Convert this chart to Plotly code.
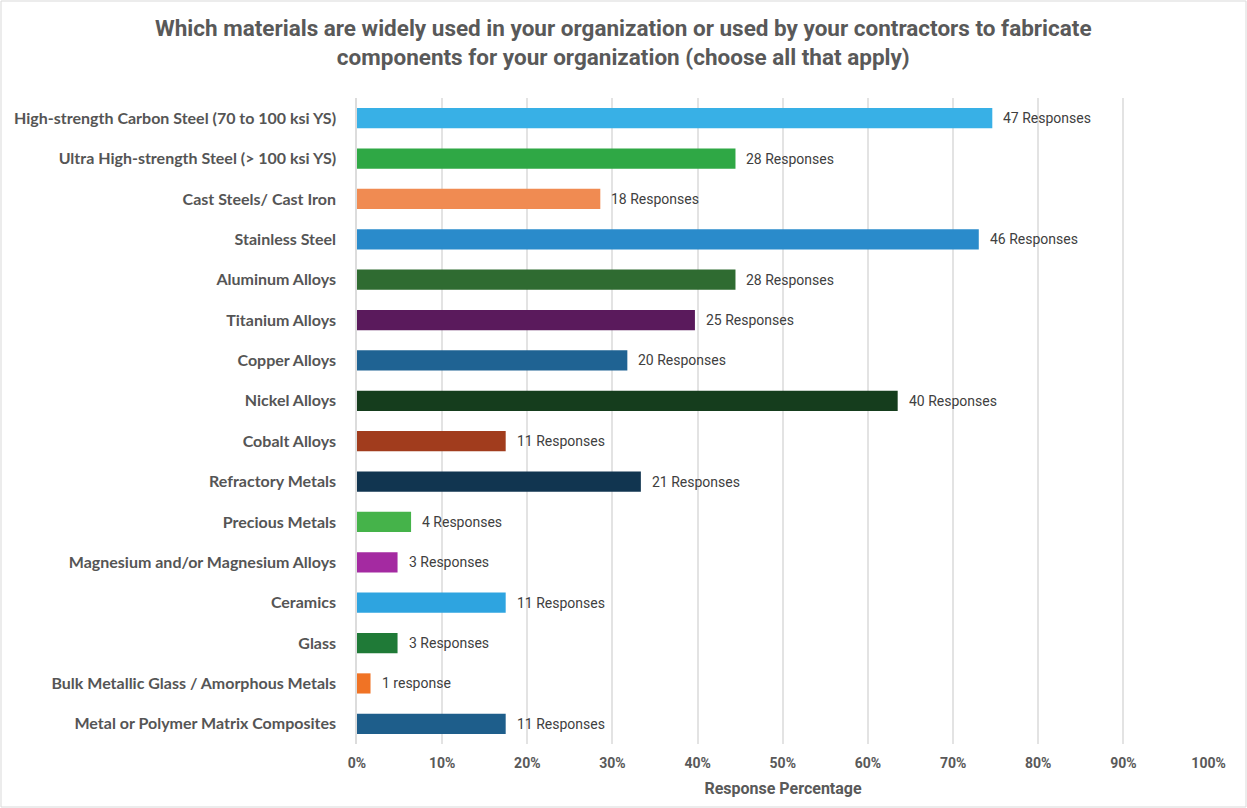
import plotly.graph_objects as go

# Survey results: materials used in-house or by contractors
materials = [
    "High-strength Carbon Steel (70 to 100 ksi YS)",
    "Ultra High-strength Steel (> 100 ksi YS)",
    "Cast Steels/ Cast Iron",
    "Stainless Steel",
    "Aluminum Alloys",
    "Titanium Alloys",
    "Copper Alloys",
    "Nickel Alloys",
    "Cobalt Alloys",
    "Refractory Metals",
    "Precious Metals",
    "Magnesium and/or Magnesium Alloys",
    "Ceramics",
    "Glass",
    "Bulk Metallic Glass / Amorphous Metals",
    "Metal or Polymer Matrix Composites",
]
responses = [47, 28, 18, 46, 28, 25, 20, 40, 11, 21, 4, 3, 11, 3, 1, 11]
total_respondents = 63
bar_colors = [
    "#38b0e6", "#2fa845", "#f08b52", "#2a8bcb", "#2f6b31", "#5a1a5c",
    "#1f6393", "#153d1d", "#a13c1d", "#113550", "#45b34a", "#a42aa1",
    "#2ea4e0", "#1f7a37", "#f07325", "#1e5e8b",
]
x_ticks = [0, 0.1, 0.2, 0.3, 0.4, 0.5, 0.6, 0.7, 0.8, 0.9, 1.0]

shares = [r / total_respondents for r in responses]
labels = [f"{r} response" if r == 1 else f"{r} Responses" for r in responses]

narrow = "Roboto, sans-serif"
W, H = 1247, 808
M = dict(l=357, r=38, t=98, b=64)
pw = W - M["l"] - M["r"]
ph = H - M["t"] - M["b"]

fig = go.Figure(
    go.Bar(
        x=shares,
        y=materials,
        orientation="h",
        marker=dict(color=bar_colors, line=dict(width=0)),
        width=0.5,
        hoverinfo="skip",
    )
)

# value labels to the right of each bar
annotations = [
    dict(
        x=s, y=m, xref="x", yref="y",
        text=t, showarrow=False,
        xanchor="left", yanchor="middle", xshift=9,
        font=dict(family=narrow, size=14, color="#404040"),
    )
    for s, m, t in zip(shares, materials, labels)
]

# chart title, centred on the whole page
annotations.append(
    dict(
        text="<b>Which materials are widely used in your organization or used by your contractors to fabricate<br>"
             "components for your organization (choose all that apply)</b>",
        x=(W / 2 - M["l"]) / pw, xref="paper", xanchor="center",
        y=1 + (M["t"] - 13) / ph, yref="paper", yanchor="top",
        showarrow=False, align="center",
        font=dict(family=narrow, size=22.5, color="#595959"),
    )
)

fig.update_layout(
    width=W,
    height=H,
    margin=M,
    paper_bgcolor="white",
    plot_bgcolor="white",
    showlegend=False,
    annotations=annotations,
    xaxis=dict(
        range=[0, 1.0005],
        tickvals=x_ticks,
        tickformat=".0%",
        showgrid=True,
        gridcolor="#e3e3e3",
        gridwidth=1.5,
        zeroline=False,
        showline=False,
        ticks="",
        ticklabelstandoff=9,
        tickfont=dict(family=narrow, size=14, color="#595959", weight="bold"),
        title=dict(
            text="<b>Response Percentage</b>",
            font=dict(family=narrow, size=16, color="#595959"),
            standoff=12,
        ),
    ),
    yaxis=dict(
        categoryorder="array",
        categoryarray=materials,
        autorange="reversed",
        showgrid=False,
        zeroline=False,
        showline=True,
        linecolor="#dcdcdc",
        linewidth=1.5,
        ticks="",
        ticklabelstandoff=16,
        tickfont=dict(family="Lato, Roboto, sans-serif", size=16, color="#555555", weight="bold"),
    ),
    shapes=[
        dict(
            type="rect",
            xref="paper",
            yref="paper",
            x0=-(M["l"] - 1) / pw,
            x1=1 + (M["r"] - 1) / pw,
            y0=-(M["b"] - 1) / ph,
            y1=1 + (M["t"] - 1) / ph,
            line=dict(color="#d9d9d9", width=1),
            fillcolor="rgba(0,0,0,0)",
            layer="below",
        )
    ],
)

fig.write_html("out.html")
